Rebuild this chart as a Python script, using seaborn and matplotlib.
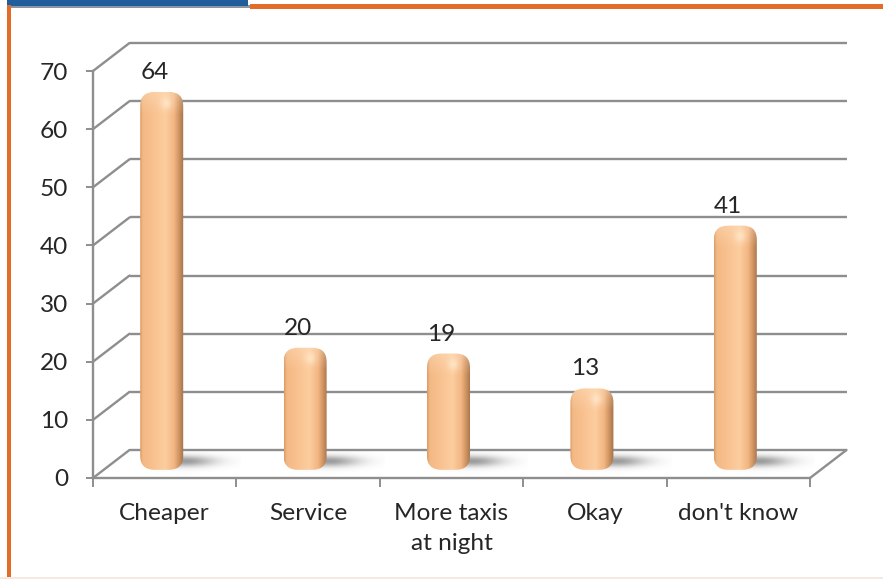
import numpy as np
import pandas as pd
import matplotlib
matplotlib.use("Agg")
import matplotlib.pyplot as plt
import seaborn as sns
from matplotlib.transforms import ScaledTranslation
from matplotlib.patches import FancyBboxPatch, Rectangle, ConnectionPatch
from matplotlib.colors import to_rgb

# ---- data ----
categories = ["Cheaper", "Service", "More taxis\nat night", "Okay", "don't know"]
values = [64, 20, 19, 13, 41]
y_ticks = [0, 10, 20, 30, 40, 50, 60, 70]

sns.set_theme(style="white")
plt.rcParams["font.family"] = ["Lato", "DejaVu Sans"]

W, H, DPI = 883, 580, 100
fig = plt.figure(figsize=(W / DPI, H / DPI), dpi=DPI)
fig.patch.set_facecolor("white")

# front plane of the 3-D box, in pixels
X0, X1, YB, YT = 93, 810, 478, 71
ax = fig.add_axes([X0 / W, 1 - YB / H, (X1 - X0) / W, (YB - YT) / H])
ax.set_facecolor("none")

GRID = "#8E8E8E"
TXT = "#262626"
FS = 17.6
PX_PER_UNIT = (YB - YT) / 70.0
PX_PER_CAT = (X1 - X0) / 5.0

back = ax.transData + ScaledTranslation(0.365, 0.28, fig.dpi_scale_trans)
bar_tr = ax.transData + ScaledTranslation(-0.03, 0.14, fig.dpi_scale_trans)

# ---- bars through seaborn ----
df = pd.DataFrame({"category": categories, "value": values})
sns.barplot(data=df, x="category", y="value", width=0.3, color="#F8BE8A",
            ax=ax, zorder=3)

# cylinder colouring across the width
stops = np.array([0.0, 0.06, 0.3, 0.58, 0.78, 0.9, 1.0])
cols = np.array([to_rgb(c) for c in
                 ["#DB9C68", "#F3B984", "#F9C190", "#FCCD9F", "#F3B683", "#CB915F", "#A6724A"]])
ncol = 80
xs = np.linspace(0, 1, ncol)
row_rgb = np.stack([np.interp(xs, stops, cols[:, k]) for k in range(3)], axis=-1)
hi = np.array(to_rgb("#FFE6C8"))

shadow_rgb = np.array(to_rgb("#707070"))

for patch, v in zip(ax.patches, values):
    bx, bw, bh = patch.get_x(), patch.get_width(), patch.get_height()
    patch.set_visible(False)
    cx = bx + bw / 2
    ybot = -1.0
    nrow = int((bh - ybot) * PX_PER_UNIT) + 2
    ys = np.linspace(ybot, bh, nrow)
    d = (bh - ys) * PX_PER_UNIT  # pixels below the top
    img = np.repeat(row_rgb[None, :, :], nrow, axis=0)
    cap = np.clip(1 - d / 22.0, 0, 1)[:, None] * 0.35
    spot = (np.exp(-((d - 11) / 6.0) ** 2)[:, None]
            * np.exp(-((xs - 0.6) / 0.12) ** 2)[None, :]) * 0.7
    w = np.clip(cap + spot, 0, 1)[..., None]
    img = img * (1 - w) + hi * w
    r_x = 0.1
    r_y = 14.0 / PX_PER_UNIT
    clip = FancyBboxPatch((bx, ybot), bw, bh - ybot,
                          boxstyle=f"round,pad=0,rounding_size={r_x}",
                          mutation_aspect=r_y / r_x,
                          transform=bar_tr, facecolor="none", edgecolor="none")
    ax.add_patch(clip)
    im = ax.imshow(img, extent=(bx, bx + bw, ybot, bh), origin="lower",
                   aspect="auto", zorder=3, interpolation="bilinear")
    im.set_transform(bar_tr)
    im.set_clip_path(clip)

    # soft floor shadow to the right of each column
    sx = np.linspace(cx - 0.1, cx + 0.55, 140)
    sy = np.linspace(-3.5, 4.0, 60)
    gx, gy = np.meshgrid(sx, sy)
    a = np.exp(-(((gx - (cx + 0.16)) * PX_PER_CAT / 30.0) ** 2
                 + ((gy - 0.4) * PX_PER_UNIT / 5.5) ** 2)) * 0.7
    simg = np.zeros((len(sy), len(sx), 4))
    simg[..., :3] = shadow_rgb
    simg[..., 3] = a
    sim = ax.imshow(simg, extent=(sx[0], sx[-1], sy[0], sy[-1]), origin="lower",
                    aspect="auto", zorder=2, interpolation="bilinear")
    sim.set_transform(bar_tr)
    sim.set_clip_on(False)

    # value label
    lab_tr = bar_tr + ScaledTranslation(-0.07, 0.13, fig.dpi_scale_trans)
    ax.text(cx, v, f"{v}", transform=lab_tr, ha="center", va="baseline",
            fontsize=FS, color=TXT, zorder=5)

# ---- walls and floor ----
for y in y_ticks:
    ax.plot([-0.5, 4.5], [y, y], transform=back, color=GRID, lw=1.7,
            zorder=1, clip_on=False, solid_capstyle="butt")
    con = ConnectionPatch(xyA=(-0.5, y), coordsA=ax.transData,
                          xyB=(-0.5, y), coordsB=back,
                          color=GRID, lw=1.7, zorder=1)
    con.set_clip_on(False)
    ax.add_artist(con)
con = ConnectionPatch(xyA=(4.5, 0), coordsA=ax.transData,
                      xyB=(4.5, 0), coordsB=back, color=GRID, lw=1.7, zorder=1)
con.set_clip_on(False)
ax.add_artist(con)

ax.set_xlim(-0.5, 4.5)
ax.set_ylim(0, 70)
for s in ["top", "right"]:
    ax.spines[s].set_visible(False)
for s in ["left", "bottom"]:
    ax.spines[s].set_visible(True)
    ax.spines[s].set_color(GRID)
    ax.spines[s].set_linewidth(1.7)

ax.set_yticks(y_ticks)
ax.set_yticklabels([str(t) for t in y_ticks])
ax.tick_params(axis="y", left=True, length=5, width=1.4, color=GRID,
               pad=13, labelsize=FS, labelcolor=TXT)
ax.set_xticks(range(len(categories)))
ax.set_xticklabels(categories, linespacing=1.5)
ax.set_xticks(np.arange(-0.5, len(categories), 1.0), minor=True)
ax.tick_params(axis="x", which="major", bottom=False, length=0, pad=18,
               labelsize=FS, labelcolor=TXT)
ax.tick_params(axis="x", which="minor", bottom=True, length=6.5, width=1.4,
               color=GRID)
ax.set_xlabel("")
ax.set_ylabel("")


# ---- slide frame ----
def px_rect(x, y, w, h, color):
    fig.add_artist(Rectangle((x / W, 1 - (y + h) / H), w / W, h / H,
                             transform=fig.transFigure, facecolor=color,
                             edgecolor="none", zorder=10))


px_rect(9, 5, 241, 3, "#8A96A6")
px_rect(7, 0, 241, 6, "#1F5D9B")
px_rect(250, 4, 633, 5, "#E36C29")
px_rect(7, 5, 4, 572, "#E36C29")
px_rect(0, 577, 883, 2, "#F6E9E2")

fig.savefig("out.png", dpi=DPI, facecolor="white")
